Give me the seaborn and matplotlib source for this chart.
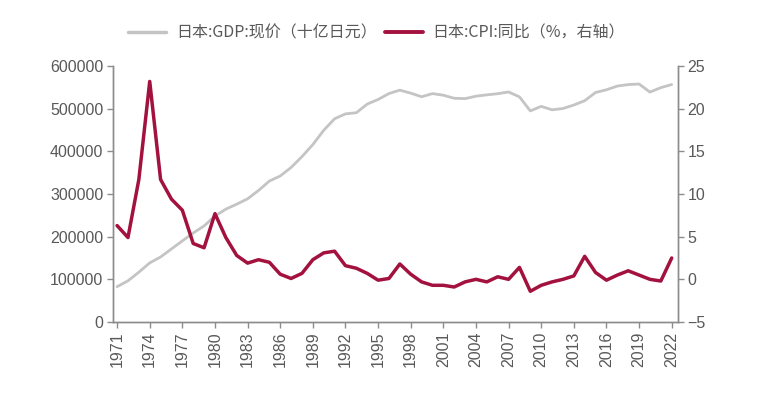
import numpy as np
import pandas as pd
import matplotlib.pyplot as plt
import seaborn as sns
from matplotlib.lines import Line2D

years = list(range(1971, 2023))

# Japan nominal GDP, billion yen (left axis)
gdp = [82800, 96500, 116700, 138500, 152400, 171300, 190100, 208600, 225200, 248400,
       264600, 276200, 288800, 308200, 330400, 342300, 362300, 387700, 415900, 449400,
       476400, 487900, 490600, 510900, 521600, 535600, 543500, 536500, 528100, 535400,
       531700, 524500, 523700, 529400, 532500, 535200, 539300, 527800, 494900, 505500,
       497400, 500500, 508700, 518800, 538000, 544400, 553100, 556600, 557900, 539000,
       549400, 556700]

# Japan CPI yoy, % (right axis)
cpi = [6.3, 4.9, 11.7, 23.2, 11.7, 9.4, 8.1, 4.2, 3.7, 7.7,
       4.9, 2.8, 1.9, 2.3, 2.0, 0.6, 0.1, 0.7, 2.3, 3.1,
       3.3, 1.6, 1.3, 0.7, -0.1, 0.1, 1.8, 0.6, -0.3, -0.7,
       -0.7, -0.9, -0.3, 0.0, -0.3, 0.3, 0.0, 1.4, -1.4, -0.7,
       -0.3, 0.0, 0.4, 2.7, 0.8, -0.1, 0.5, 1.0, 0.5, 0.0,
       -0.2, 2.5]

gdp_label = "日本:GDP:现价（十亿日元）"
cpi_label = "日本:CPI:同比（%，右轴）"
gray_c = "#c4c4c4"
red_c = "#a3123f"
axis_c = "#8c8c8c"
text_c = "#595959"

df = pd.DataFrame({"year": years, "gdp": gdp, "cpi": cpi})

sns.set_style("white")
plt.rcParams["font.family"] = ["Noto Sans CJK SC", "DejaVu Sans"]

fig = plt.figure(figsize=(7.64, 3.98), dpi=100)
ax = fig.add_axes([0.148, 0.191, 0.739, 0.643])
ax2 = ax.twinx()

sns.lineplot(data=df, x="year", y="gdp", ax=ax, color=gray_c, linewidth=2.0)
sns.lineplot(data=df, x="year", y="cpi", ax=ax2, color=red_c, linewidth=2.5)

ax.set_xlim(1970.63, 2022.55)
ax.set_ylim(0, 600000)
ax2.set_ylim(-5, 25)
ax.set_xticks(list(range(1971, 2023, 3)))
ax.set_xticklabels([str(y) for y in range(1971, 2023, 3)], rotation=90)
ax.set_yticks(range(0, 600001, 100000))
ax2.set_yticks(range(-5, 26, 5))
ax.set_xlabel("")
ax.set_ylabel("")
ax2.set_ylabel("")

for a in (ax, ax2):
    a.spines["top"].set_visible(False)
    for s in ("left", "right", "bottom"):
        a.spines[s].set_color(axis_c)
        a.spines[s].set_linewidth(1.0)
    a.tick_params(colors=axis_c, labelcolor=text_c, labelsize=11.5, length=4, width=1.0, pad=3)
ax.tick_params(axis="y", left=True, right=False)
ax.tick_params(axis="x", bottom=True)
ax2.tick_params(axis="y", right=True, left=False)
for lab in ax.get_xticklabels() + ax.get_yticklabels() + ax2.get_yticklabels():
    lab.set_family(["Liberation Sans"])

handles = [Line2D([], [], color=gray_c, linewidth=2.5),
           Line2D([], [], color=red_c, linewidth=2.8)]
fig.legend(handles, [gdp_label, cpi_label], loc="center", bbox_to_anchor=(0.493, 0.917),
           ncol=2, frameon=False, fontsize=11.5, handlelength=2.4, columnspacing=0.5,
           handletextpad=0.6, labelcolor=text_c)

fig.savefig("out.png", dpi=100, facecolor="white")
